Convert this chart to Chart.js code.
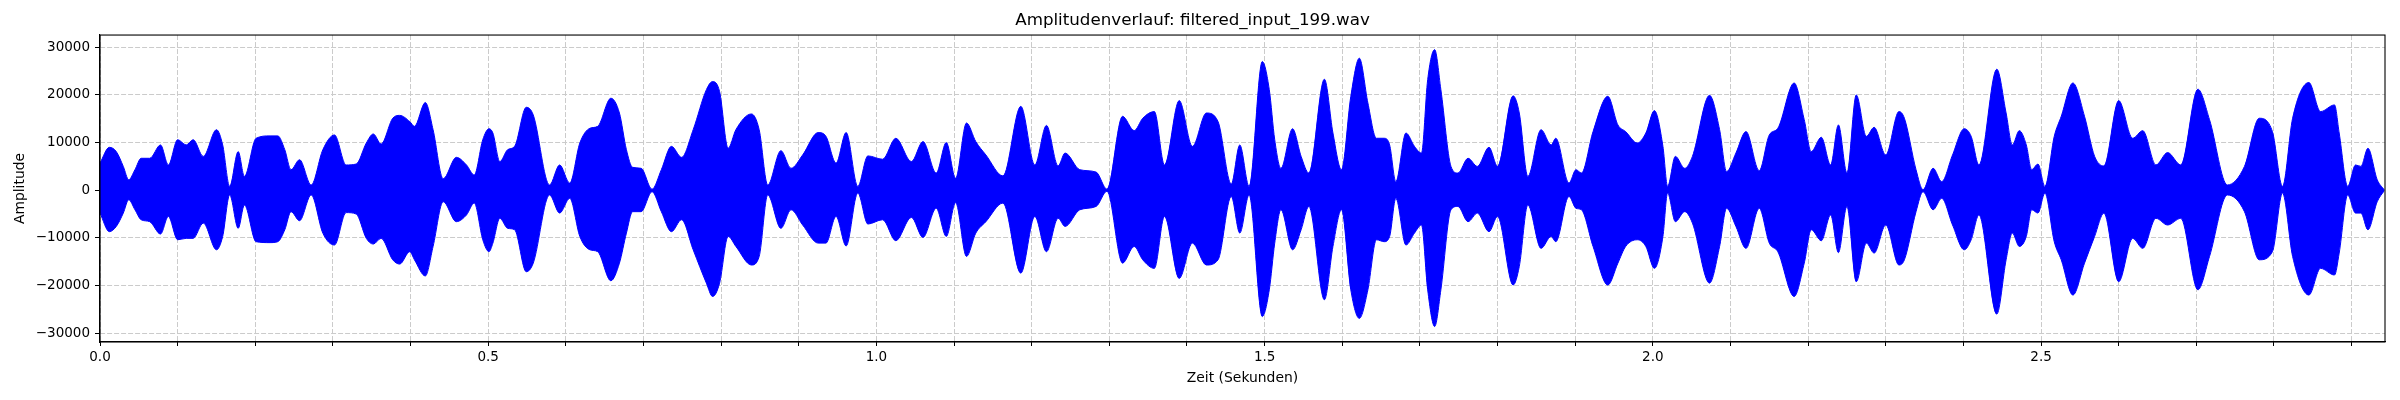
<!DOCTYPE html>
<html>
<head>
<meta charset="utf-8">
<title>Amplitudenverlauf</title>
<script src="https://cdn.jsdelivr.net/npm/chart.js@4.4.0/dist/chart.umd.min.js"></script>
<style>
	html, body { margin: 0; padding: 0; background: #fff; }
	#wrap { width: 2400px; height: 400px; }
</style>
</head>
<body>
<div id="wrap"><canvas id="chart" width="2400" height="400"></canvas></div>
<script>
// envelope of the waveform (seconds / amplitude)
const times = [
	0.000, 0.012, 0.021, 0.030, 0.037, 0.045, 0.053, 0.064, 0.078, 0.088,
	0.100, 0.111, 0.120, 0.133, 0.150, 0.158, 0.167, 0.178, 0.186, 0.201,
	0.219, 0.229, 0.238, 0.246, 0.257, 0.272, 0.287, 0.302, 0.317, 0.330,
	0.343, 0.352, 0.362, 0.377, 0.386, 0.399, 0.405, 0.419, 0.429, 0.442,
	0.459, 0.472, 0.482, 0.493, 0.501, 0.506, 0.515, 0.525, 0.534, 0.549,
	0.558, 0.579, 0.592, 0.605, 0.618, 0.631, 0.641, 0.658, 0.669, 0.678,
	0.686, 0.697, 0.711, 0.723, 0.736, 0.749, 0.764, 0.781, 0.789, 0.798,
	0.809, 0.819, 0.839, 0.849, 0.860, 0.877, 0.890, 0.905, 0.925, 0.935,
	0.948, 0.961, 0.976, 0.989, 1.008, 1.025, 1.045, 1.060, 1.077, 1.090,
	1.102, 1.116, 1.128, 1.141, 1.163, 1.186, 1.204, 1.219, 1.234, 1.243,
	1.262, 1.283, 1.297, 1.317, 1.332, 1.343, 1.358, 1.371, 1.390, 1.407,
	1.425, 1.440, 1.457, 1.468, 1.480, 1.497, 1.506, 1.513, 1.521, 1.536,
	1.547, 1.557, 1.577, 1.588, 1.599, 1.611, 1.622, 1.633, 1.644, 1.654,
	1.661, 1.669, 1.682, 1.693, 1.702, 1.710, 1.719, 1.727, 1.740, 1.749,
	1.762, 1.774, 1.789, 1.800, 1.820, 1.828, 1.839, 1.856, 1.869, 1.875,
	1.892, 1.901, 1.908, 1.923, 1.942, 1.955, 1.965, 1.980, 1.991, 2.002,
	2.013, 2.019, 2.029, 2.041, 2.051, 2.073, 2.086, 2.095, 2.107, 2.120,
	2.137, 2.150, 2.161, 2.182, 2.195, 2.204, 2.217, 2.229, 2.239, 2.250,
	2.262, 2.275, 2.285, 2.300, 2.317, 2.324, 2.339, 2.348, 2.361, 2.372,
	2.386, 2.401, 2.410, 2.420, 2.443, 2.455, 2.463, 2.472, 2.481, 2.488,
	2.496, 2.505, 2.517, 2.526, 2.541, 2.556, 2.569, 2.581, 2.600, 2.618,
	2.631, 2.648, 2.663, 2.680, 2.702, 2.717, 2.740, 2.762, 2.781, 2.798,
	2.811, 2.824, 2.845, 2.860, 2.878, 2.884, 2.895, 2.905, 2.912, 2.921,
	2.933, 2.942
];

const upper = [
	5700, 9000, 8100, 5000, 2200, 4300, 6700, 6700, 9500, 5300,
	10600, 9500, 10600, 7100, 12700, 9500, 800, 8100, 2900, 10900,
	11400, 11400, 8500, 4300, 6400, 1100, 8500, 11600, 5300, 5500,
	9900, 11800, 9700, 15100, 15700, 14400, 13400, 18400, 12700, 2400,
	6900, 5300, 3200, 10600, 12900, 12000, 6000, 8500, 9200, 17400,
	15800, 1100, 5300, 1500, 9900, 13000, 13400, 19300, 16200, 8500,
	4800, 4600, 200, 4300, 9200, 6900, 12700, 21100, 22800, 20700,
	8800, 12700, 16000, 12700, 1100, 8300, 4600, 7400, 12100, 11300,
	5700, 12100, 800, 7200, 6500, 10900, 6000, 10200, 3600, 10000,
	2500, 14100, 10200, 7400, 3000, 17600, 5300, 13600, 5100, 7800,
	4300, 3800, 200, 15500, 12500, 15100, 16500, 5300, 18800, 9200,
	16200, 14400, 1300, 9500, 800, 27000, 21100, 10600, 4600, 12900,
	7100, 3600, 23300, 12000, 4300, 19700, 27700, 18300, 10900, 10900,
	9500, 1800, 12000, 9200, 7800, 23200, 29500, 21100, 5000, 3600,
	6700, 5000, 9000, 5000, 19800, 16200, 2900, 12700, 9500, 10900,
	1500, 4300, 3600, 12300, 19700, 13700, 12300, 9900, 12000, 16700,
	9200, 800, 7100, 4600, 7100, 19900, 12700, 3900, 7800, 12300,
	4100, 11600, 13000, 22500, 14800, 8100, 11100, 5300, 13700, 3600,
	20000, 11300, 13200, 7400, 16500, 15100, 4300, 100, 4600, 1800,
	7400, 12900, 11300, 5300, 25400, 16200, 9500, 12500, 9500, 4300,
	5500, 800, 11300, 15500, 22500, 15500, 7100, 5100, 18800, 10900,
	12500, 5300, 7900, 5300, 21200, 14800, 1100, 5000, 15100, 12300,
	800, 15100, 22600, 16500, 17900, 12000, 800, 5300, 5000, 8800,
	2200, 100
];

const lower = [
	-4800, -8700, -7600, -4800, -2000, -4100, -6200, -6600, -9200, -5500,
	-10400, -10100, -10100, -6900, -12500, -9700, -1000, -8000, -3100, -10800,
	-11000, -10800, -8300, -4500, -6400, -1000, -9000, -11500, -4700, -5000,
	-10100, -11300, -10100, -14600, -15500, -12900, -14600, -18000, -11800, -2400,
	-6600, -5200, -2700, -10400, -12900, -11100, -5900, -8000, -8300, -17100,
	-15300, -1000, -4800, -1700, -9700, -12500, -12900, -19000, -15300, -9000,
	-4500, -4500, -300, -4500, -8700, -6200, -12500, -19500, -22300, -19500,
	-9700, -11800, -15700, -13900, -1000, -8000, -4100, -7300, -11100, -11100,
	-5500, -11700, -600, -7100, -6200, -10600, -5700, -9900, -3800, -9700,
	-2600, -13900, -9000, -6600, -2700, -17400, -5500, -12900, -5900, -7600,
	-4100, -3400, -200, -15300, -11800, -14600, -16400, -5500, -18500, -11100,
	-15700, -14600, -1300, -9000, -1000, -26500, -20900, -11100, -4100, -12500,
	-8300, -3400, -23000, -11800, -4100, -20900, -26900, -20900, -10400, -10800,
	-9700, -1700, -11500, -9000, -7300, -20900, -28600, -20900, -4100, -3400,
	-6600, -4800, -8700, -5500, -19900, -16000, -3100, -12200, -9700, -10800,
	-1300, -3800, -4100, -11800, -19900, -15300, -11800, -10400, -11800, -16400,
	-9700, -600, -6600, -4500, -6900, -19500, -11800, -3800, -7600, -12200,
	-3800, -11100, -12900, -22300, -15300, -8300, -10600, -5200, -13100, -3400,
	-19200, -11100, -13200, -7300, -15700, -14600, -4500, -300, -4100, -1700,
	-7300, -12500, -10400, -5200, -26000, -14600, -9000, -11800, -9700, -4100,
	-4800, -600, -10800, -14600, -22000, -15300, -9700, -4800, -19200, -10100,
	-12200, -5900, -7300, -5900, -20900, -13900, -1000, -4500, -14600, -12900,
	-600, -13900, -22000, -16400, -17800, -13200, -1000, -4800, -4800, -8300,
	-2400, -100
];

const xTicksMajor = [0.0, 0.5, 1.0, 1.5, 2.0, 2.5];
const yTicks = [-30000, -20000, -10000, 0, 10000, 20000, 30000];

const X_MAX = 2.943;
const Y_MIN = -31850;
const Y_MAX = 32560;

Chart.defaults.font.family = "'DejaVu Sans', sans-serif";
Chart.defaults.color = '#000';

// matplotlib-style frame on all four sides
const frame = {
	id: 'frame',
	afterDraw( chart ) {
		const { ctx, chartArea: a } = chart;
		ctx.save();
		ctx.strokeStyle = '#000';
		ctx.lineWidth = 1.1;
		ctx.strokeRect( a.left, a.top, a.right - a.left, a.bottom - a.top );
		ctx.restore();
	},
};

const isMajor = ( v ) => xTicksMajor.some( ( m ) => Math.abs( m - v ) < 1e-6 );

const ctx = document.getElementById( 'chart' ).getContext( '2d' );
new Chart( ctx, {
	type: 'line',
	data: {
		datasets: [
			{
				data: times.map( ( t, i ) => ( { x: t, y: upper[ i ] } ) ),
				borderColor: '#0000ff',
				backgroundColor: '#0000ff',
				borderWidth: 1,
				pointRadius: 0,
				cubicInterpolationMode: 'monotone',
				fill: '+1',
			},
			{
				data: times.map( ( t, i ) => ( { x: t, y: lower[ i ] } ) ),
				borderColor: '#0000ff',
				backgroundColor: '#0000ff',
				borderWidth: 1,
				pointRadius: 0,
				cubicInterpolationMode: 'monotone',
				fill: false,
			},
		],
	},
	plugins: [ frame ],
	options: {
		responsive: false,
		animation: false,
		devicePixelRatio: 1,
		layout: { padding: { left: 0, right: 15, top: 0, bottom: 0 } },
		plugins: {
			legend: { display: false },
			tooltip: { enabled: false },
			title: {
				display: true,
				text: 'Amplitudenverlauf: filtered_input_199.wav',
				font: { size: 16.7, weight: 'normal' },
				color: '#000',
				padding: { top: 11, bottom: 4 },
			},
		},
		scales: {
			x: {
				type: 'linear',
				min: 0,
				max: X_MAX,
				afterFit: ( scale ) => { scale.height = 58; },
				ticks: {
					stepSize: 0.1,
					includeBounds: false,
					autoSkip: false,
					maxRotation: 0,
					padding: 3,
					font: { size: 13.5 },
					callback: ( v ) => ( isMajor( v ) ? Number( v ).toFixed( 1 ) : '' ),
				},
				grid: {
					color: '#cbcbcb',
					lineWidth: 1,
					tickLength: 4,
					tickColor: '#000',
					tickWidth: 1,
				},
				border: { color: '#000', width: 1.1, dash: [ 5, 2 ] },
				title: {
					display: true,
					text: 'Zeit (Sekunden)',
					font: { size: 13.9 },
					padding: { top: 0, bottom: 13.7 },
				},
			},
			y: {
				min: Y_MIN,
				max: Y_MAX,
				afterFit: ( scale ) => { scale.width = 100; },
				afterBuildTicks: ( scale ) => { scale.ticks = yTicks.map( ( v ) => ( { value: v } ) ); },
				ticks: {
					padding: 5,
					font: { size: 13.5 },
					callback: ( v ) => ( v < 0 ? '\u2212' + Math.abs( v ) : String( v ) ),
				},
				grid: {
					color: '#cbcbcb',
					lineWidth: 1,
					tickLength: 5,
					tickColor: '#000',
					tickWidth: 1,
				},
				border: { color: '#000', width: 1.1, dash: [ 5, 2 ] },
				title: {
					display: true,
					text: 'Amplitude',
					font: { size: 13.9 },
					padding: { top: 11.7, bottom: 0 },
				},
			},
		},
	},
} );
</script>
</body>
</html>
